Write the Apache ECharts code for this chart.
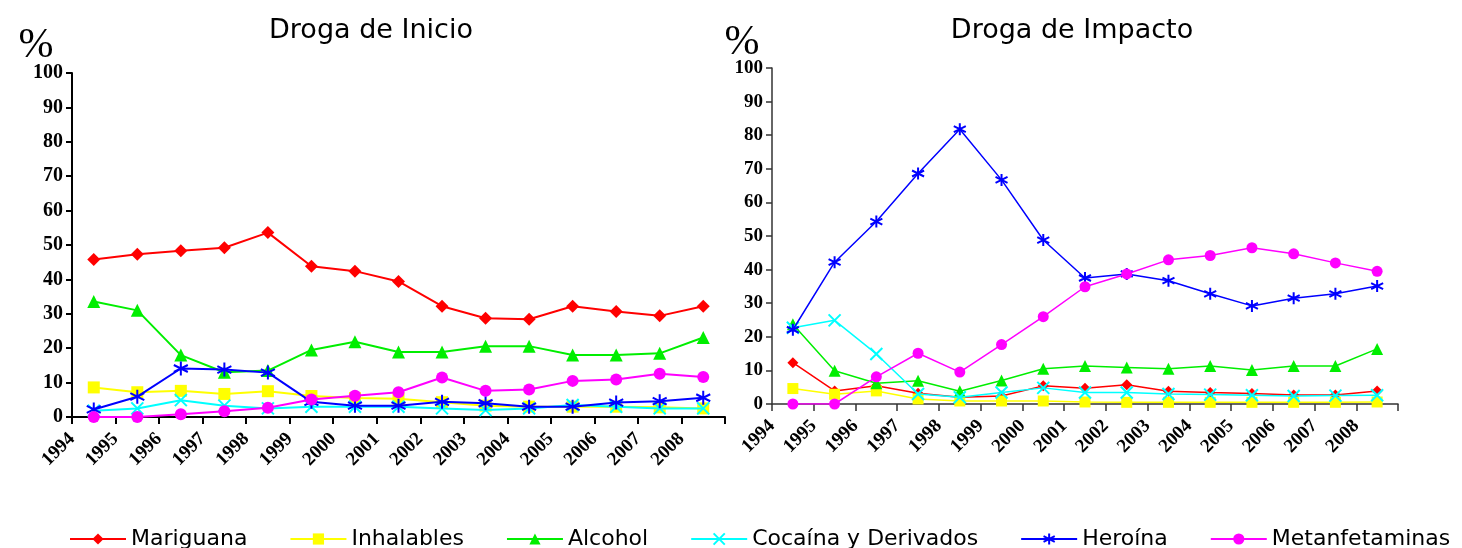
<!DOCTYPE html>
<html>
<head>
<meta charset="utf-8">
<script src="https://cdn.jsdelivr.net/npm/echarts@6/dist/echarts.min.js"></script>
<style>
html, body { margin: 0; padding: 0; background: #fff; }
#main { width: 1462px; height: 548px; }
</style>
</head>
<body>
<div id="main"></div>
<script>
var years = ['1994','1995','1996','1997','1998','1999','2000','2001','2002','2003','2004','2005','2006','2007','2008'];
var seriesNames = ['Mariguana', 'Inhalables', 'Alcohol', 'Cocaína y Derivados', 'Heroína', 'Metanfetaminas'];

// Droga de Inicio (%)
var inicioMariguana = [45.8, 47.3, 48.3, 49.2, 53.6, 43.8, 42.4, 39.4, 32.2, 28.7, 28.4, 32.2, 30.7, 29.4, 32.2];
var inicioInhalables = [8.6, 7.2, 7.6, 6.7, 7.5, 6.1, 5.5, 5.3, 4.3, 3.3, 3.0, 3.0, 3.0, 2.8, 2.5];
var inicioAlcohol = [33.6, 31.0, 18.0, 13.0, 13.5, 19.5, 21.9, 18.9, 18.9, 20.6, 20.6, 18.0, 18.0, 18.5, 23.1];
var inicioCocaina = [1.8, 2.5, 4.9, 3.3, 2.5, 3.0, 3.0, 3.0, 2.5, 2.0, 2.5, 3.5, 3.0, 2.5, 2.5];
var inicioHeroina = [2.2, 5.9, 14.1, 13.8, 12.9, 4.4, 3.3, 3.3, 4.4, 4.0, 3.0, 3.0, 4.2, 4.6, 5.6];
var inicioMetanfetaminas = [0, 0, 0.8, 1.7, 2.7, 5.1, 6.2, 7.2, 11.5, 7.6, 8.0, 10.5, 10.9, 12.6, 11.6];

// Droga de Impacto (%)
var impactoMariguana = [12.3, 3.9, 5.4, 3.2, 2.0, 2.4, 5.4, 4.7, 5.7, 3.8, 3.4, 3.1, 2.7, 2.7, 3.9];
var impactoInhalables = [4.6, 2.9, 3.9, 1.5, 0.9, 0.9, 0.9, 0.6, 0.5, 0.5, 0.5, 0.5, 0.5, 0.5, 0.6];
var impactoAlcohol = [23.7, 9.9, 6.2, 6.9, 3.8, 7.0, 10.5, 11.3, 10.9, 10.5, 11.3, 10.1, 11.3, 11.3, 16.4];
var impactoCocaina = [22.7, 24.9, 14.9, 3.0, 2.0, 3.4, 4.8, 3.4, 3.4, 3.0, 2.8, 2.6, 2.4, 2.5, 2.6];
var impactoHeroina = [22.1, 42.2, 54.3, 68.6, 81.8, 66.7, 48.8, 37.5, 38.7, 36.7, 32.8, 29.2, 31.5, 32.8, 35.1];
var impactoMetanfetaminas = [0, 0, 8.1, 15.1, 9.5, 17.7, 26.0, 34.9, 38.7, 42.9, 44.2, 46.5, 44.7, 42.0, 39.5];

var colors = ['#ff0000', '#ffff00', '#00ee00', '#00ffff', '#0000ff', '#ff00ff'];
var symbols = [
    'diamond',
    'rect',
    'triangle',
    'path://M0,0L10,10M10,0L0,10',
    'path://M5,0L5,10M0.6,2.5L9.4,7.5M9.4,2.5L0.6,7.5',
    'circle'
];
var strokeOnly = [false, false, false, true, true, false];

var inicioData = [inicioMariguana, inicioInhalables, inicioAlcohol, inicioCocaina, inicioHeroina, inicioMetanfetaminas];
var impactoData = [impactoMariguana, impactoInhalables, impactoAlcohol, impactoCocaina, impactoHeroina, impactoMetanfetaminas];

function makeSeries(dataSets, gridIdx, lineW, sizes) {
    var out = [];
    for (var i = 0; i < dataSets.length; i++) {
        out.push({
            name: seriesNames[i],
            type: 'line',
            xAxisIndex: gridIdx * 2,
            yAxisIndex: gridIdx,
            data: dataSets[i],
            symbol: symbols[i],
            symbolSize: sizes[i],
            showAllSymbol: true,
            lineStyle: { color: colors[i], width: lineW },
            itemStyle: {
                color: colors[i],
                borderColor: colors[i],
                borderWidth: strokeOnly[i] ? 2 : 0,
                opacity: 1
            },
            emphasis: { disabled: true },
            animation: false,
            z: 2 + i
        });
    }
    return out;
}

var labelStyle = {
    fontFamily: 'Liberation Serif',
    fontWeight: 'bold',
    color: '#000'
};

function yAxisFor(gridIdx, lineColor, lineW, fs) {
    return {
        type: 'value',
        gridIndex: gridIdx,
        min: 0,
        max: 100,
        interval: 10,
        axisLine: { show: true, lineStyle: { color: lineColor, width: lineW } },
        axisTick: { show: true, inside: false, length: 6, lineStyle: { color: lineColor, width: lineW } },
        splitLine: { show: false },
        axisLabel: Object.assign({ fontSize: fs, margin: 9 }, labelStyle)
    };
}

function xAxesFor(gridIdx, lineColor, lineW, fs) {
    return [
        {
            type: 'category',
            gridIndex: gridIdx,
            data: years,
            boundaryGap: true,
            axisLine: { show: true, onZero: false, lineStyle: { color: lineColor, width: lineW } },
            axisTick: { show: true, inside: false, length: 7, alignWithLabel: false, lineStyle: { color: lineColor, width: lineW } },
            axisLabel: { show: false },
            splitLine: { show: false }
        },
        {
            // year labels sit on the tick marks, rotated like the original
            type: 'category',
            gridIndex: gridIdx,
            data: years.concat(['']),
            boundaryGap: false,
            position: 'bottom',
            axisLine: { show: false },
            axisTick: { show: false },
            splitLine: { show: false },
            axisLabel: Object.assign({ fontSize: fs, rotate: 45, margin: 19, interval: 0 }, labelStyle)
        }
    ];
}

var option = {
    backgroundColor: '#fff',
    animation: false,
    grid: [
        { left: 72, top: 73, width: 653, height: 344 },
        { left: 772, top: 68, width: 626, height: 336 }
    ],
    xAxis: xAxesFor(0, '#000', 2, 19).concat(xAxesFor(1, '#333', 1.5, 19)),
    yAxis: [yAxisFor(0, '#000', 2, 20), yAxisFor(1, '#333', 1.5, 19)],
    legend: {
        data: seriesNames,
        left: 64,
        top: 523,
        itemWidth: 56,
        itemHeight: 14,
        itemGap: 42,
        textStyle: { fontFamily: 'DejaVu Sans', fontSize: 22, color: '#000' },
        selectedMode: false
    },
    graphic: [
        { type: 'text', x: 371, y: 31, style: { text: 'Droga de Inicio', font: '27px "DejaVu Sans"', fill: '#000', textAlign: 'center', textVerticalAlign: 'middle' } },
        { type: 'text', x: 1072, y: 31, style: { text: 'Droga de Impacto', font: '27px "DejaVu Sans"', fill: '#000', textAlign: 'center', textVerticalAlign: 'middle' } },
        { type: 'text', x: 36, y: 46, style: { text: '%', font: '42px "Liberation Serif"', fill: '#000', textAlign: 'center', textVerticalAlign: 'middle' } },
        { type: 'text', x: 742, y: 43, style: { text: '%', font: '42px "Liberation Serif"', fill: '#000', textAlign: 'center', textVerticalAlign: 'middle' } }
    ],
    series: makeSeries(inicioData, 0, 2, [13, 12, 13, 12, 14, 12])
        .concat(makeSeries(impactoData, 1, 1.5, [11, 11, 12, 12, 12, 11]))
};

var myChart = echarts.init(document.getElementById('main'));
myChart.setOption(option);
</script>
</body>
</html>
